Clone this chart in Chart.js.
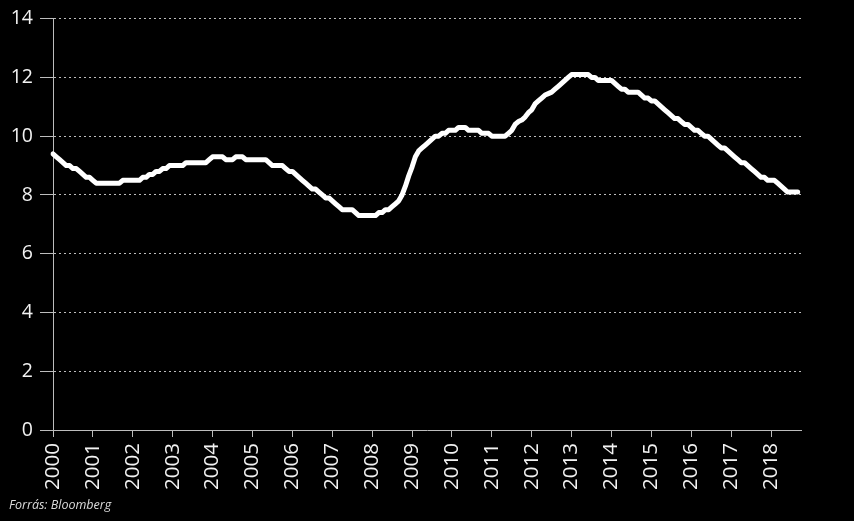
<!DOCTYPE html>
<html>
<head>
<meta charset="utf-8">
<script src="https://cdn.jsdelivr.net/npm/chart.js@4.4.1/dist/chart.umd.min.js"></script>
<style>
  html, body { margin: 0; padding: 0; background: #000; }
  #wrap { position: relative; width: 854px; height: 521px; background: #000; }
  #source { position: absolute; left: 9px; top: 496px; font-family: "Open Sans", sans-serif; font-style: italic; font-size: 12.5px; color: #dcdcdc; }
</style>
</head>
<body>
<div id="wrap">
  <canvas id="c" width="854" height="521"></canvas>
  <div id="source">Forrás: Bloomberg</div>
</div>
<script>
// Year tick labels
const years = [2000, 2001, 2002, 2003, 2004, 2005, 2006, 2007, 2008, 2009,
               2010, 2011, 2012, 2013, 2014, 2015, 2016, 2017, 2018];
const yTicks = [0, 2, 4, 6, 8, 10, 12, 14];

// Monthly values (Jan..Dec)
const v2000 = [9.4, 9.3, 9.2, 9.1, 9.0, 9.0, 8.9, 8.9, 8.8, 8.7, 8.6, 8.6];
const v2001 = [8.5, 8.4, 8.4, 8.4, 8.4, 8.4, 8.4, 8.4, 8.4, 8.5, 8.5, 8.5];
const v2002 = [8.5, 8.5, 8.5, 8.6, 8.6, 8.7, 8.7, 8.8, 8.8, 8.9, 8.9, 9.0];
const v2003 = [9.0, 9.0, 9.0, 9.0, 9.1, 9.1, 9.1, 9.1, 9.1, 9.1, 9.1, 9.2];
const v2004 = [9.3, 9.3, 9.3, 9.3, 9.2, 9.2, 9.2, 9.3, 9.3, 9.3, 9.2, 9.2];
const v2005 = [9.2, 9.2, 9.2, 9.2, 9.2, 9.1, 9.0, 9.0, 9.0, 9.0, 8.9, 8.8];
const v2006 = [8.8, 8.7, 8.6, 8.5, 8.4, 8.3, 8.2, 8.2, 8.1, 8.0, 7.9, 7.9];
const v2007 = [7.8, 7.7, 7.6, 7.5, 7.5, 7.5, 7.5, 7.4, 7.3, 7.3, 7.3, 7.3];
const v2008 = [7.3, 7.3, 7.4, 7.4, 7.5, 7.5, 7.6, 7.7, 7.8, 8.0, 8.3, 8.65];
const v2009 = [8.95, 9.3, 9.5, 9.6, 9.7, 9.8, 9.9, 10.0, 10.0, 10.1, 10.1, 10.2];
const v2010 = [10.2, 10.2, 10.3, 10.3, 10.3, 10.2, 10.2, 10.2, 10.2, 10.1, 10.1, 10.1];
const v2011 = [10.0, 10.0, 10.0, 10.0, 10.0, 10.1, 10.2, 10.4, 10.5, 10.55, 10.65, 10.8];
const v2012 = [10.9, 11.1, 11.2, 11.3, 11.4, 11.45, 11.5, 11.6, 11.7, 11.8, 11.9, 12.0];
const v2013 = [12.1, 12.1, 12.1, 12.1, 12.1, 12.1, 12.0, 12.0, 11.9, 11.9, 11.9, 11.9];
const v2014 = [11.9, 11.8, 11.7, 11.6, 11.6, 11.5, 11.5, 11.5, 11.5, 11.4, 11.3, 11.3];
const v2015 = [11.2, 11.2, 11.1, 11.0, 10.9, 10.8, 10.7, 10.6, 10.6, 10.5, 10.4, 10.4];
const v2016 = [10.3, 10.2, 10.2, 10.1, 10.0, 10.0, 9.9, 9.8, 9.7, 9.6, 9.6, 9.5];
const v2017 = [9.4, 9.3, 9.2, 9.1, 9.1, 9.0, 8.9, 8.8, 8.7, 8.6, 8.6, 8.5];
const v2018 = [8.5, 8.5, 8.4, 8.3, 8.2, 8.1, 8.1, 8.1, 8.1];

const values = [].concat(v2000, v2001, v2002, v2003, v2004, v2005, v2006, v2007, v2008,
  v2009, v2010, v2011, v2012, v2013, v2014, v2015, v2016, v2017, v2018);

// monthly category labels (one extra month after the last value, axis runs a bit past the data)
const labels = [];
years.forEach(y => { for (let m = 1; m <= 12; m++) labels.push(y + '-' + String(m).padStart(2, '0')); });
labels.length = values.length + 1;

const FONT = '"Open Sans", "Noto Sans", sans-serif';

new Chart(document.getElementById('c'), {
  type: 'line',
  data: {
    labels: labels,
    datasets: [{
      data: values,
      borderColor: '#ffffff',
      borderWidth: 5,
      pointRadius: 0,
      tension: 0,
      fill: false,
      borderJoinStyle: 'round',
      borderCapStyle: 'round'
    }]
  },
  options: {
    responsive: false,
    animation: false,
    devicePixelRatio: 1,
    layout: { padding: { top: 17, right: 53, left: 0, bottom: 0 } },
    plugins: { legend: { display: false }, tooltip: { enabled: false } },
    scales: {
      x: {
        type: 'category',
        offset: false,
        afterFit: (s) => { s.height = 521 - 430; },
        grid: {
          display: true,
          drawOnChartArea: false,
          drawTicks: true,
          tickLength: 7,
          tickWidth: 1,
          tickColor: (ctx) => (ctx.index % 12 === 0 ? '#bdbdbd' : 'rgba(0,0,0,0)')
        },
        border: { display: true, color: '#bdbdbd', width: 1 },
        ticks: {
          autoSkip: false,
          maxRotation: 90,
          minRotation: 90,
          padding: 6,
          color: '#f2f2f2',
          font: { family: FONT, size: 20.5 },
          callback: function (val, index) {
            return index % 12 === 0 ? String(years[index / 12]) : '';
          }
        }
      },
      y: {
        min: 0,
        max: 14,
        afterFit: (s) => { s.width = 53; },
        afterBuildTicks: (s) => { s.ticks = yTicks.map(v => ({ value: v })); },
        grid: {
          color: '#bdbdbd',
          lineWidth: 1,
          tickLength: 13,
          drawTicks: true
        },
        border: { display: true, color: '#bdbdbd', width: 1, dash: [2, 3] },
        ticks: {
          padding: 7,
          color: '#f2f2f2',
          font: { family: FONT, size: 19.5 }
        }
      }
    }
  }
});
</script>
</body>
</html>
